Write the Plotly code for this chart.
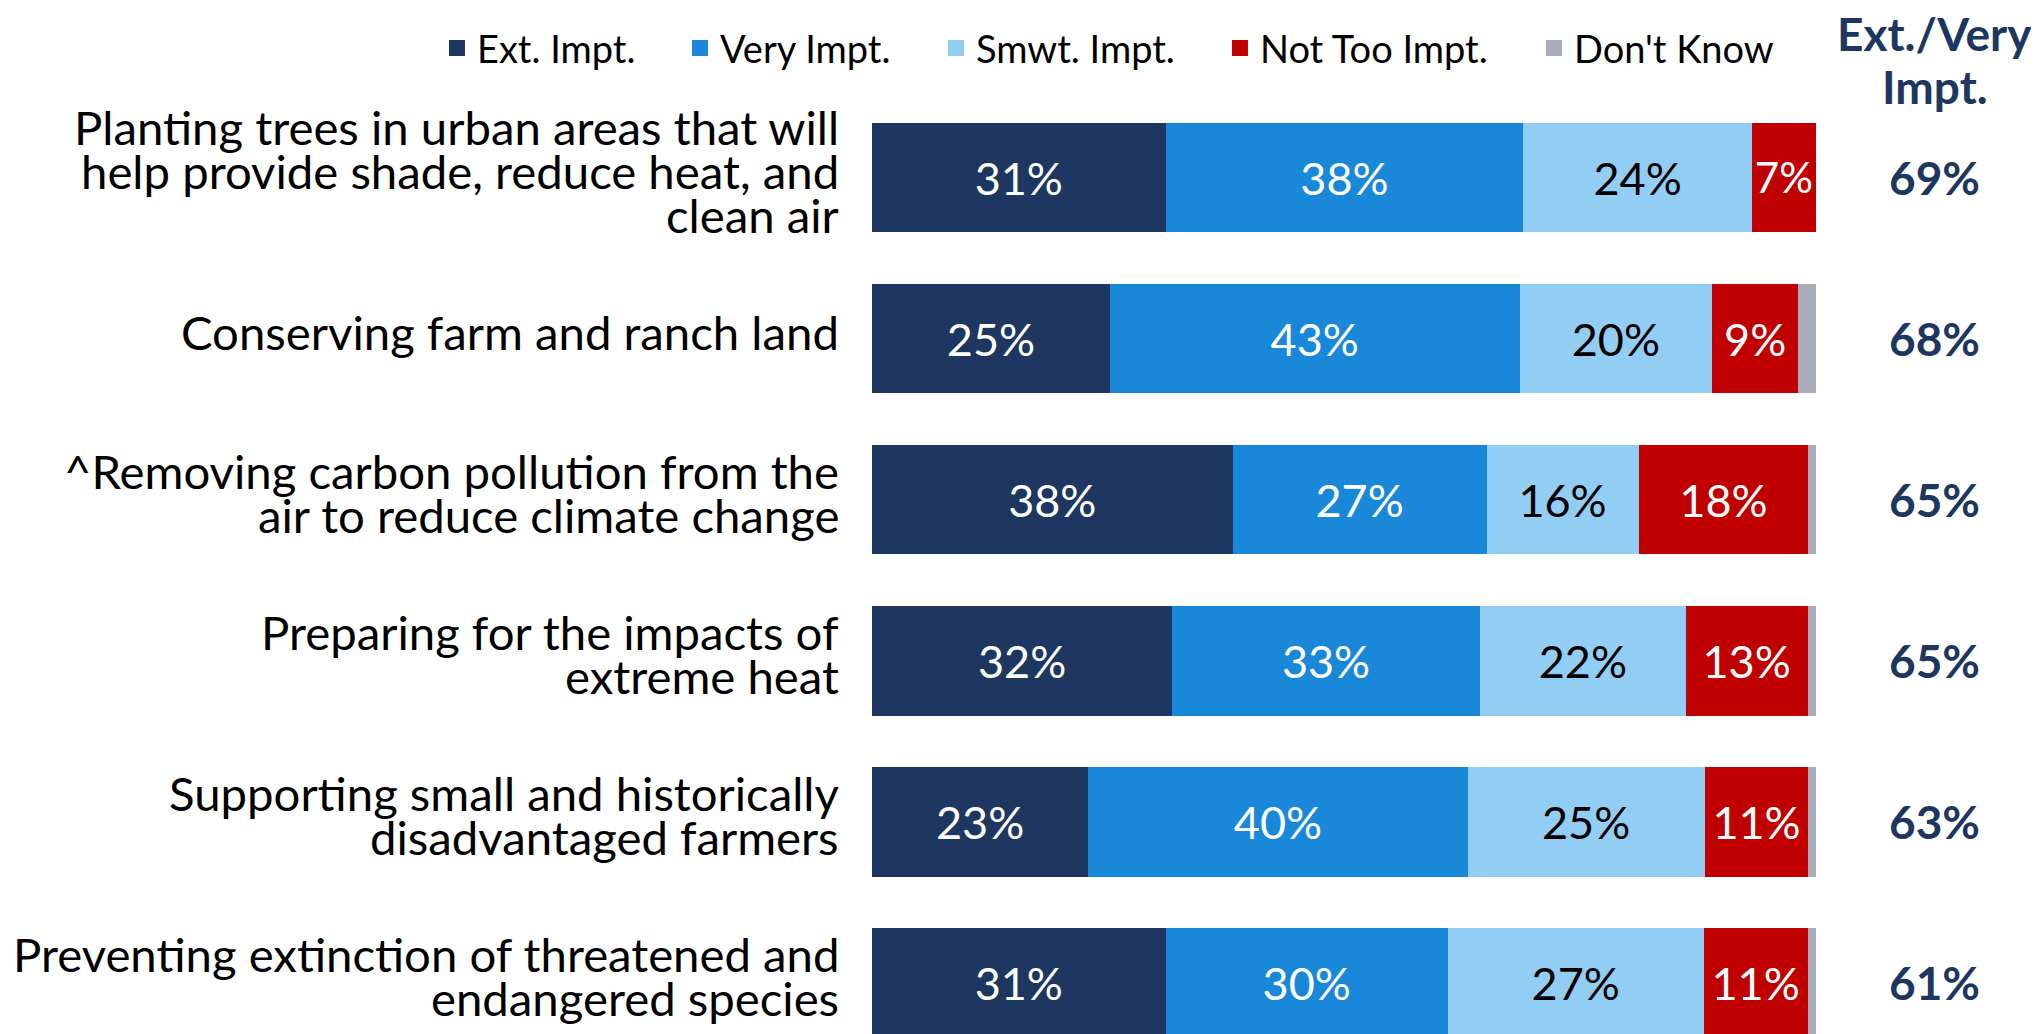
import plotly.graph_objects as go

# values (percent of respondents)
categories = [
    "Planting trees in urban areas that will<br>help provide shade, reduce heat, and<br>clean air",
    "Conserving farm and ranch land",
    "^Removing carbon pollution from the<br>air to reduce climate change",
    "Preparing for the impacts of<br>extreme heat",
    "Supporting small and historically<br>disadvantaged farmers",
    "Preventing extinction of threatened and<br>endangered species",
]
ext_impt = [31.1, 25.2, 38.2, 31.8, 22.9, 31.1]
very_impt = [37.9, 43.4, 26.9, 32.6, 40.2, 29.9]
smwt_impt = [24.2, 20.4, 16.1, 21.8, 25.1, 27.1]
not_too_impt = [6.8, 9.1, 18.0, 12.9, 11.0, 11.0]
dont_know = [0.0, 1.9, 0.8, 0.9, 0.8, 0.9]
ext_very = [69, 68, 65, 65, 63, 61]
header_lines = ["Ext./Very", "Impt."]

series = [
    ("Ext. Impt.", ext_impt, "#1D3760", "white", True),
    ("Very Impt.", very_impt, "#1A88D8", "white", True),
    ("Smwt. Impt.", smwt_impt, "#92CDF4", "black", True),
    ("Not Too Impt.", not_too_impt, "#C00000", "white", True),
    ("Don't Know", dont_know, "#A9ACB9", "white", False),
]

FONT = "Lato, 'Open Sans', sans-serif"
NAVY = "#1D3760"

# one legend box per entry so the spacing follows the reference
legend_x = [-0.4608, -0.2034, 0.0678, 0.3686, 0.7013]

fig = go.Figure()
legends = {}
for k, (name, values, color, text_color, labelled) in enumerate(series):
    fig.add_trace(go.Bar(
        y=categories,
        x=values,
        orientation="h",
        name=name,
        marker=dict(color=color, line=dict(width=0)),
        texttemplate="%{x:.0f}%" if labelled else "",
        textposition="inside" if labelled else "none",
        insidetextanchor="middle",
        textangle=0,
        textfont=dict(family=FONT, size=45, color=text_color),
        showlegend=False,
        hoverinfo="skip",
    ))
    legend_id = "legend" if k == 0 else f"legend{k + 1}"
    fig.add_trace(go.Scatter(
        x=[None], y=[None], mode="markers", name=name,
        marker=dict(symbol="square", size=22, color=color),
        legend=legend_id,
    ))
    legends[legend_id] = dict(
        orientation="h",
        x=legend_x[k], xanchor="left",
        y=1.052, yanchor="middle",
        bgcolor="rgba(0,0,0,0)",
        font=dict(family=FONT, size=38, color="black"),
        itemclick=False, itemdoubleclick=False,
    )

annotations = []
line_pitch = 44
for cat in categories:
    lines = cat.split("<br>")
    n = len(lines)
    for i, line in enumerate(lines):
        annotations.append(dict(
            x=0, xref="paper", y=cat, yref="y",
            xanchor="right", yanchor="middle", xshift=-31,
            yshift=7 + ((n - 1) / 2 - i) * line_pitch,
            text=line, showarrow=False,
            font=dict(family=FONT, size=47.3, color="black"),
        ))

for cat, val in zip(categories, ext_very):
    annotations.append(dict(
        x=1.126, xref="paper", y=cat, yref="y",
        xanchor="center", yanchor="middle",
        text=f"<b>{val}%</b>", showarrow=False,
        font=dict(family=FONT, size=46, color=NAVY),
    ))

for line, y in zip(header_lines, [1.0675, 1.0107]):
    annotations.append(dict(
        x=1.126, xref="paper", y=y, yref="paper",
        xanchor="center", yanchor="middle",
        text=f"<b>{line}</b>", showarrow=False,
        font=dict(family=FONT, size=46, color=NAVY),
    ))

# the page body adds an 8px margin, so the figure is 8px smaller and shifted
fig.update_layout(
    width=2031,
    height=1026,
    barmode="stack",
    bargap=0.32,
    plot_bgcolor="white",
    paper_bgcolor="white",
    margin=dict(l=864, r=223, t=89, b=0),
    xaxis=dict(range=[0, 100], visible=False, fixedrange=True),
    yaxis=dict(
        type="category",
        range=[5.317, -0.5],
        showticklabels=False,
        showgrid=False,
        zeroline=False,
        fixedrange=True,
    ),
    annotations=annotations,
    showlegend=True,
    **legends,
)

fig.write_html("out.html", config={"displayModeBar": False})
